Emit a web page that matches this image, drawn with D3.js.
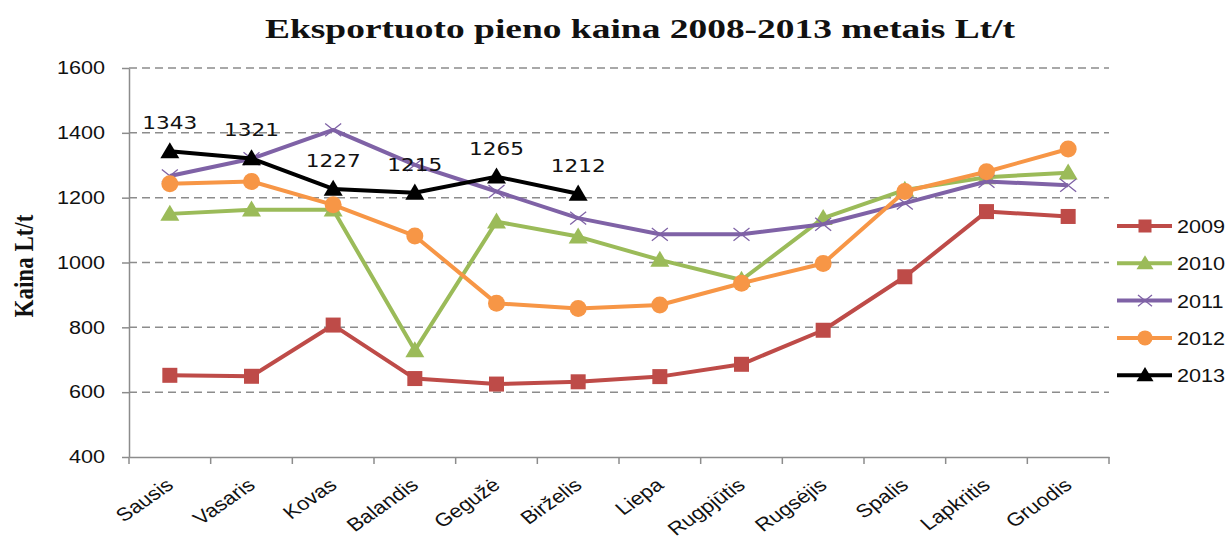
<html>
<head>
    <meta charset="utf-8">
    <script src="https://d3js.org/d3.v7.min.js"></script>
    <style>
        body { margin: 0; background: #fff; }
        svg { font-family: "DejaVu Sans", Verdana, sans-serif; }
        .grid line { stroke: #8c8c8c; stroke-width: 1.5; stroke-dasharray: 8 5; }
        .axis path, .axis line { stroke: #8c8c8c; stroke-width: 1.5; }
        .line { fill: none; stroke-width: 4; stroke-linejoin: round; }
    </style>
</head>
<body>
<div id="chart"></div>
<script>
    var months = ["Sausis", "Vasaris", "Kovas", "Balandis", "Gegužė", "Birželis",
        "Liepa", "Rugpjūtis", "Rugsėjis", "Spalis", "Lapkritis", "Gruodis"];
    var years = ["2009", "2010", "2011", "2012", "2013"];
    var v2009 = [652, 649, 807, 642, 625, 632, 648, 686, 791, 956, 1157, 1142];
    var v2010 = [1150, 1163, 1163, 729, 1126, 1080, 1008, 946, 1137, 1224, 1263, 1277];
    var v2011 = [1267, 1320, 1409, 1301, 1219, 1137, 1087, 1087, 1118, 1183, 1250, 1238];
    var v2012 = [1243, 1250, 1178, 1082, 874, 858, 869, 936, 997, 1219, 1280, 1350];
    var v2013 = [1343, 1321, 1227, 1215, 1265, 1212];
    var yTicks = [400, 600, 800, 1000, 1200, 1400, 1600];

    var colors = ["#BE4B48", "#9BBB59", "#7F62A6", "#F79646", "#000000"];
    var markers = ["square", "triangle", "cross", "circle", "triangle"];

    var series = [v2009, v2010, v2011, v2012, v2013].map(function(vals, i) {
        return {
            year: years[i],
            color: colors[i],
            marker: markers[i],
            values: vals.map(function(v, j) { return { month: months[j], value: v }; })
        };
    });

    var width = 1227, height = 541;
    var plotLeft = 129, plotRight = 1109, plotTop = 68, plotBottom = 457;
    var stretchX = 1.2; // the original picture is a bit wider than tall

    // widen text horizontally, like the source image
    function widen(sel, k) {
        sel.each(function() {
            var w = this.getComputedTextLength();
            d3.select(this).attr("textLength", w * k).attr("lengthAdjust", "spacingAndGlyphs");
        });
    }

    var svg = d3.select("#chart").append("svg")
        .attr("width", width)
        .attr("height", height);

    var x = d3.scaleBand().domain(months).range([plotLeft, plotRight]).padding(0);
    var y = d3.scaleLinear().domain([400, 1600]).range([plotBottom, plotTop]);

    // title
    svg.append("text")
        .attr("x", 265).attr("y", 38)
        .style("font-family", "'Liberation Serif', 'Times New Roman', serif")
        .style("font-weight", "bold")
        .style("font-size", "28px")
        .attr("fill", "#111")
        .attr("textLength", 750)
        .attr("lengthAdjust", "spacingAndGlyphs")
        .text("Eksportuoto pieno kaina 2008-2013 metais Lt/t");

    // y title
    svg.append("text")
        .attr("transform", `translate(33,266) scale(${stretchX},1) rotate(-90)`)
        .attr("text-anchor", "middle")
        .style("font-family", "'Liberation Serif', 'Times New Roman', serif")
        .style("font-weight", "bold")
        .style("font-size", "23px")
        .attr("fill", "#111")
        .text("Kaina Lt/t");

    // grid
    svg.append("g").attr("class", "grid")
        .selectAll("line")
        .data(yTicks.slice(1)).enter()
        .append("line")
        .attr("x1", plotLeft).attr("x2", plotRight)
        .attr("y1", d => y(d)).attr("y2", d => y(d));

    // y axis
    var yAxis = svg.append("g").attr("class", "axis")
        .attr("transform", `translate(${plotLeft},0)`)
        .call(d3.axisLeft(y).tickValues(yTicks).tickSize(7).tickSizeOuter(0).tickPadding(17).tickFormat(d3.format("d")));
    yAxis.selectAll("text")
        .style("font-size", "18px")
        .attr("fill", "#111")
        .call(widen, stretchX);

    // x axis
    var xAxis = svg.append("g").attr("class", "axis")
        .attr("transform", `translate(0,${plotBottom})`)
        .call(d3.axisBottom(x).tickSize(0).tickSizeOuter(0));
    xAxis.selectAll(".tick text")
        .attr("text-anchor", "end")
        .attr("dy", 0).attr("y", 0)
        .attr("transform", `translate(5,30) scale(${stretchX},1) rotate(-40)`)
        .style("font-family", "'Liberation Sans', Arial, sans-serif")
        .style("font-size", "18.5px")
        .attr("fill", "#111");
    xAxis.selectAll(".boundary")
        .data(d3.range(months.length + 1)).enter()
        .append("line")
        .attr("class", "boundary")
        .attr("x1", d => plotLeft + d * x.step()).attr("x2", d => plotLeft + d * x.step())
        .attr("y1", 0).attr("y2", 7);

    var line = d3.line()
        .x(d => x(d.month) + x.bandwidth() / 2)
        .y(d => y(d.value));

    function drawMarker(g, type, color, size) {
        if (type === "square") {
            g.append("rect").attr("x", -size / 2).attr("y", -size / 2)
                .attr("width", size).attr("height", size).attr("fill", color);
        } else if (type === "triangle") {
            var h = size * 0.9;
            g.append("path")
                .attr("d", `M0,${-h * 0.6}L${size / 2 + 1},${h * 0.45}L${-size / 2 - 1},${h * 0.45}Z`)
                .attr("fill", color);
        } else if (type === "circle") {
            g.append("circle").attr("r", size / 2).attr("fill", color);
        } else if (type === "cross") {
            var s = size / 2;
            g.append("path")
                .attr("d", `M${-s},${-s * 0.8}L${s},${s * 0.8}M${-s},${s * 0.8}L${s},${-s * 0.8}`)
                .attr("stroke", color).attr("stroke-width", 1.3).attr("fill", "none");
        }
    }

    var markerSize = { square: 15, triangle: 17, circle: 17, cross: 16 };

    var groups = svg.selectAll(".series")
        .data(series).enter()
        .append("g").attr("class", "series");

    groups.append("path")
        .attr("class", "line")
        .attr("d", d => line(d.values))
        .style("stroke", d => d.color);

    groups.each(function(s) {
        d3.select(this).selectAll(".pt")
            .data(s.values).enter()
            .append("g").attr("class", "pt")
            .attr("transform", d => `translate(${x(d.month) + x.bandwidth() / 2},${y(d.value)})`)
            .each(function() { drawMarker(d3.select(this), s.marker, s.color, markerSize[s.marker]); });
    });

    // data labels for 2013
    svg.append("g").selectAll("text")
        .data(series[4].values).enter()
        .append("text")
        .attr("x", d => x(d.month) + x.bandwidth() / 2)
        .attr("y", d => y(d.value) - 22)
        .attr("text-anchor", "middle")
        .style("font-size", "18px")
        .attr("fill", "#111")
        .text(d => d.value)
        .call(widen, stretchX);

    // legend
    var legend = svg.append("g").selectAll("g")
        .data(series).enter()
        .append("g")
        .attr("transform", (d, i) => `translate(1117,${226 + i * 37.3})`);
    legend.append("line")
        .attr("x1", 0).attr("x2", 55)
        .attr("stroke", d => d.color).attr("stroke-width", 4);
    legend.each(function(s) {
        var m = d3.select(this).append("g").attr("transform", "translate(28,0)");
        drawMarker(m, s.marker, s.color, markerSize[s.marker] - 2);
    });
    legend.append("text")
        .attr("x", 60).attr("y", 7)
        .style("font-family", "'Liberation Sans', Arial, sans-serif")
        .style("font-size", "18px")
        .attr("fill", "#111")
        .text(d => d.year)
        .call(widen, stretchX);
</script>
</body>
</html>
